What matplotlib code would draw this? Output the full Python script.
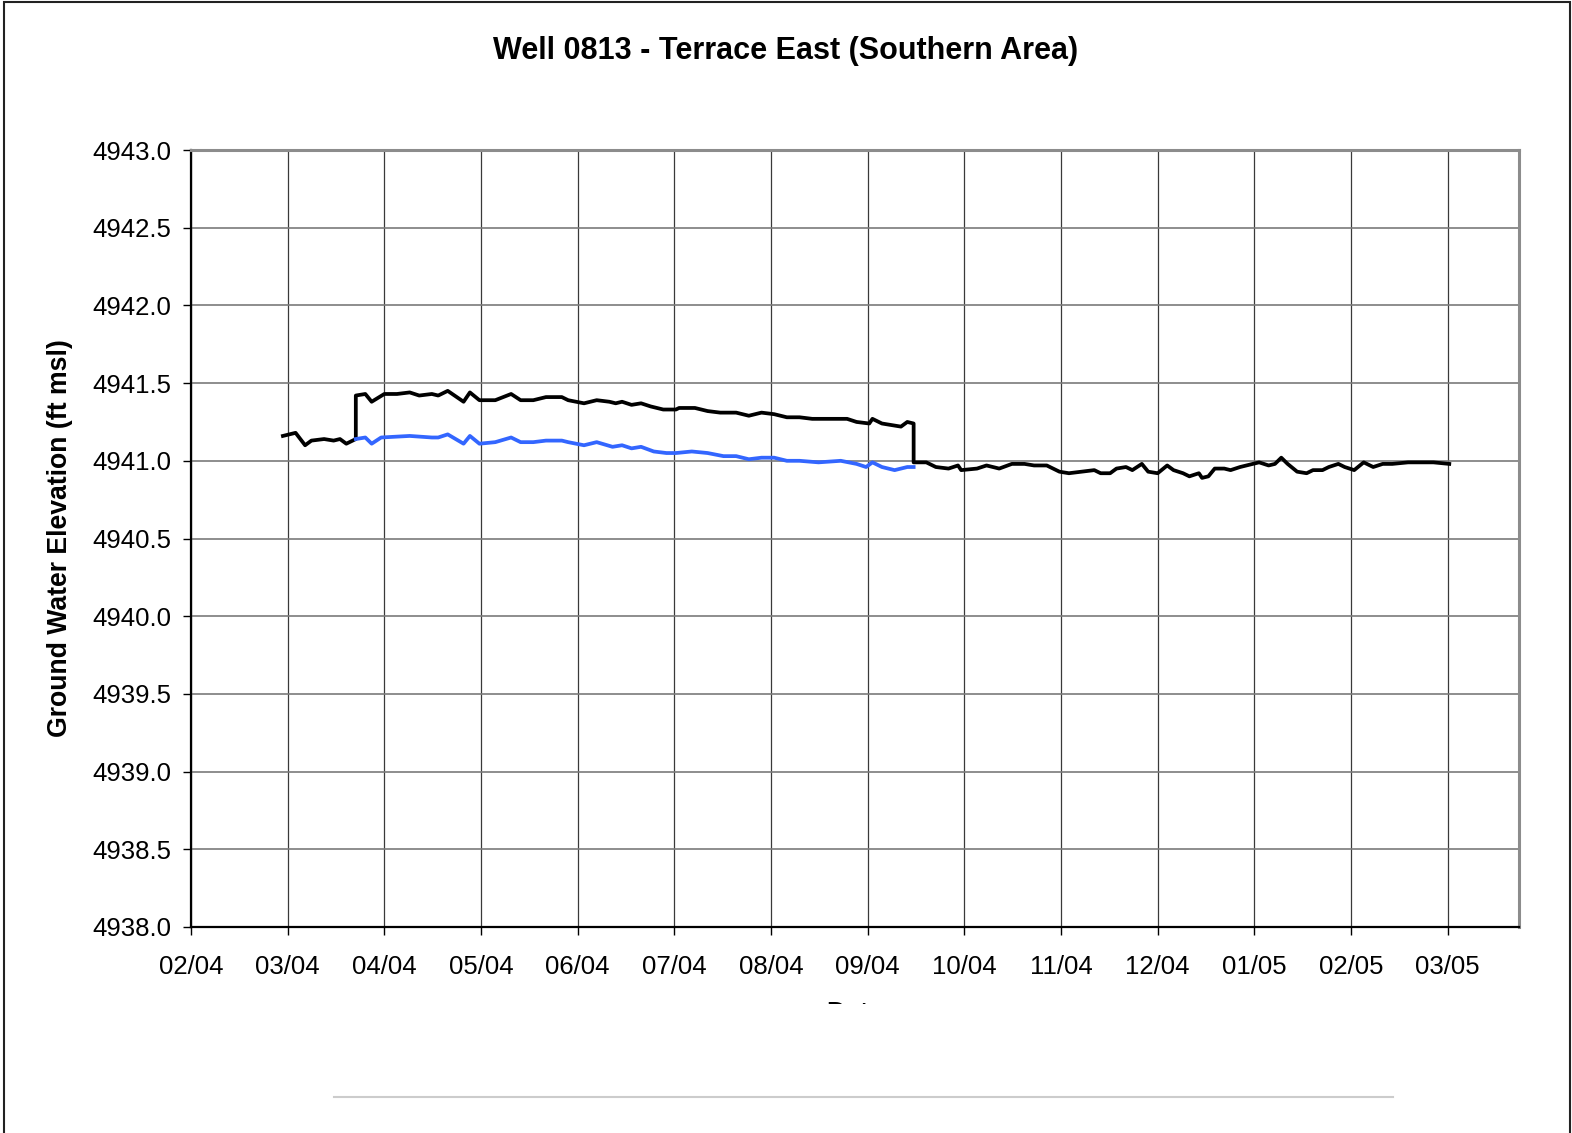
import matplotlib.pyplot as plt
import numpy as np
from matplotlib.lines import Line2D
from matplotlib.patches import Rectangle
from matplotlib.transforms import Bbox, TransformedBbox

plt.rcParams['font.family'] = ['Liberation Sans', 'DejaVu Sans']

# transducer record, days after 1 Feb 2004 and elevation (ft msl)
day = [29, 33, 36, 38, 42, 45, 47, 49, 52, 52, 55, 57, 61, 65, 69, 72, 76, 78, 81, 86,
       88, 91, 96, 101, 104, 108, 112, 117, 119, 124, 128, 132, 134, 136, 139, 142, 145, 149, 153, 154,
       159, 163, 167, 172, 176, 180, 184, 188, 192, 196, 200, 207, 210, 214, 215, 218, 221, 224, 226, 228,
       228, 232, 235, 239, 242, 243, 248, 251, 255, 259, 263, 266, 270, 274, 277, 281, 285, 287, 290, 292,
       295, 297, 300, 302, 305, 308, 310, 313, 315, 318, 319, 321, 323, 326, 328, 331, 333, 337, 340, 342,
       344, 346, 349, 352, 354, 357, 359, 362, 364, 367, 370, 371, 373, 376, 379, 384, 389, 392, 397]
elev = [4941.16, 4941.18, 4941.10, 4941.13, 4941.14, 4941.13, 4941.14, 4941.11, 4941.14, 4941.42,
        4941.43, 4941.38, 4941.43, 4941.43, 4941.44, 4941.42, 4941.43, 4941.42, 4941.45, 4941.38,
        4941.44, 4941.39, 4941.39, 4941.43, 4941.39, 4941.39, 4941.41, 4941.41, 4941.39, 4941.37,
        4941.39, 4941.38, 4941.37, 4941.38, 4941.36, 4941.37, 4941.35, 4941.33, 4941.33, 4941.34,
        4941.34, 4941.32, 4941.31, 4941.31, 4941.29, 4941.31, 4941.30, 4941.28, 4941.28, 4941.27,
        4941.27, 4941.27, 4941.25, 4941.24, 4941.27, 4941.24, 4941.23, 4941.22, 4941.25, 4941.24,
        4940.99, 4940.99, 4940.96, 4940.95, 4940.97, 4940.94, 4940.95, 4940.97, 4940.95, 4940.98,
        4940.98, 4940.97, 4940.97, 4940.93, 4940.92, 4940.93, 4940.94, 4940.92, 4940.92, 4940.95,
        4940.96, 4940.94, 4940.98, 4940.93, 4940.92, 4940.97, 4940.94, 4940.92, 4940.90, 4940.92,
        4940.89, 4940.90, 4940.95, 4940.95, 4940.94, 4940.96, 4940.97, 4940.99, 4940.97, 4940.98,
        4941.02, 4940.98, 4940.93, 4940.92, 4940.94, 4940.94, 4940.96, 4940.98, 4940.96, 4940.94,
        4940.99, 4940.98, 4940.96, 4940.98, 4940.98, 4940.99, 4940.99, 4940.99, 4940.98]

# corrected record for the offset period
day_corr = [52, 55, 57, 60, 69, 76, 78, 81, 86, 88, 91, 96, 101, 104, 108, 112, 117, 119, 124, 128,
            133, 136, 139, 142, 146, 150, 153, 158, 163, 168, 172, 176, 180, 184, 188, 192, 198, 205, 210, 213,
            215, 218, 222, 226, 228]
elev_corr = [4941.14, 4941.15, 4941.11, 4941.15, 4941.16, 4941.15, 4941.15, 4941.17, 4941.11, 4941.16,
             4941.11, 4941.12, 4941.15, 4941.12, 4941.12, 4941.13, 4941.13, 4941.12, 4941.10, 4941.12,
             4941.09, 4941.10, 4941.08, 4941.09, 4941.06, 4941.05, 4941.05, 4941.06, 4941.05, 4941.03,
             4941.03, 4941.01, 4941.02, 4941.02, 4941.00, 4941.00, 4940.99, 4941.00, 4940.98, 4940.96,
             4940.99, 4940.96, 4940.94, 4940.96, 4940.96]

month_labels = ['02/04', '03/04', '04/04', '05/04', '06/04', '07/04', '08/04',
                '09/04', '10/04', '11/04', '12/04', '01/05', '02/05', '03/05']
month_step = 30.5

W, H = 1572, 1133
fig = plt.figure(figsize=(W / 100, H / 100), dpi=100)
ax = fig.add_axes([191 / W, 1 - 927 / H, (1519 - 191) / W, (927 - 150) / H])

ax.plot(day, elev, color='black', lw=2.7, zorder=3)
ax.plot(day_corr, elev_corr, color='#3366ff', lw=2.7, zorder=4)

ax.set_ylim(4938.0, 4943.0)
ax.set_yticks(np.arange(4938.0, 4943.01, 0.5))
ax.yaxis.set_major_formatter(plt.FormatStrFormatter('%.1f'))
ax.set_xlim(0, 419)
ax.set_xticks([k * month_step for k in range(len(month_labels))])
ax.set_xticklabels(month_labels)

ax.tick_params(axis='both', labelsize=18.5, length=6, width=1, color='black')
ax.tick_params(axis='y', pad=8)
ax.tick_params(axis='x', pad=14)

ax.grid(axis='y', color='#7a7a7a', lw=1.2, zorder=1)
ax.grid(axis='x', color='#3a3a3a', lw=0.9, zorder=1)

for side in ['left', 'bottom']:
    ax.spines[side].set_color('black')
    ax.spines[side].set_linewidth(1.6)
for side in ['top', 'right']:
    ax.spines[side].set_color('#8c8c8c')
    ax.spines[side].set_linewidth(2.2)

fig.text(0.5, 1 - 51 / H, 'Well 0813 - Terrace East (Southern Area)',
         ha='center', va='center', fontsize=22, fontweight='bold')
fig.text(60 / W, 1 - 538 / H, 'Ground Water Elevation (ft msl)',
         ha='center', va='center', rotation=90, fontsize=19.2, fontweight='bold')

# axis title is cut off by the lower part of the page
xl = ax.set_xlabel('Date', fontsize=19, fontweight='bold', labelpad=16)
xl.set_clip_box(TransformedBbox(Bbox([[0, 1 - 1004 / H], [1, 1]]), fig.transFigure))
xl.set_clip_on(True)

fig.add_artist(Line2D([334 / W, 1393 / W], [1 - 1097 / H] * 2, color='#cccccc', lw=1.5))
fig.add_artist(Rectangle((3.5 / W, -0.01), (1570 - 3.5) / W, 1.01 - 2.5 / H,
                         fill=False, edgecolor='#222222', lw=1.5))

fig.savefig('out.png', dpi=100)
